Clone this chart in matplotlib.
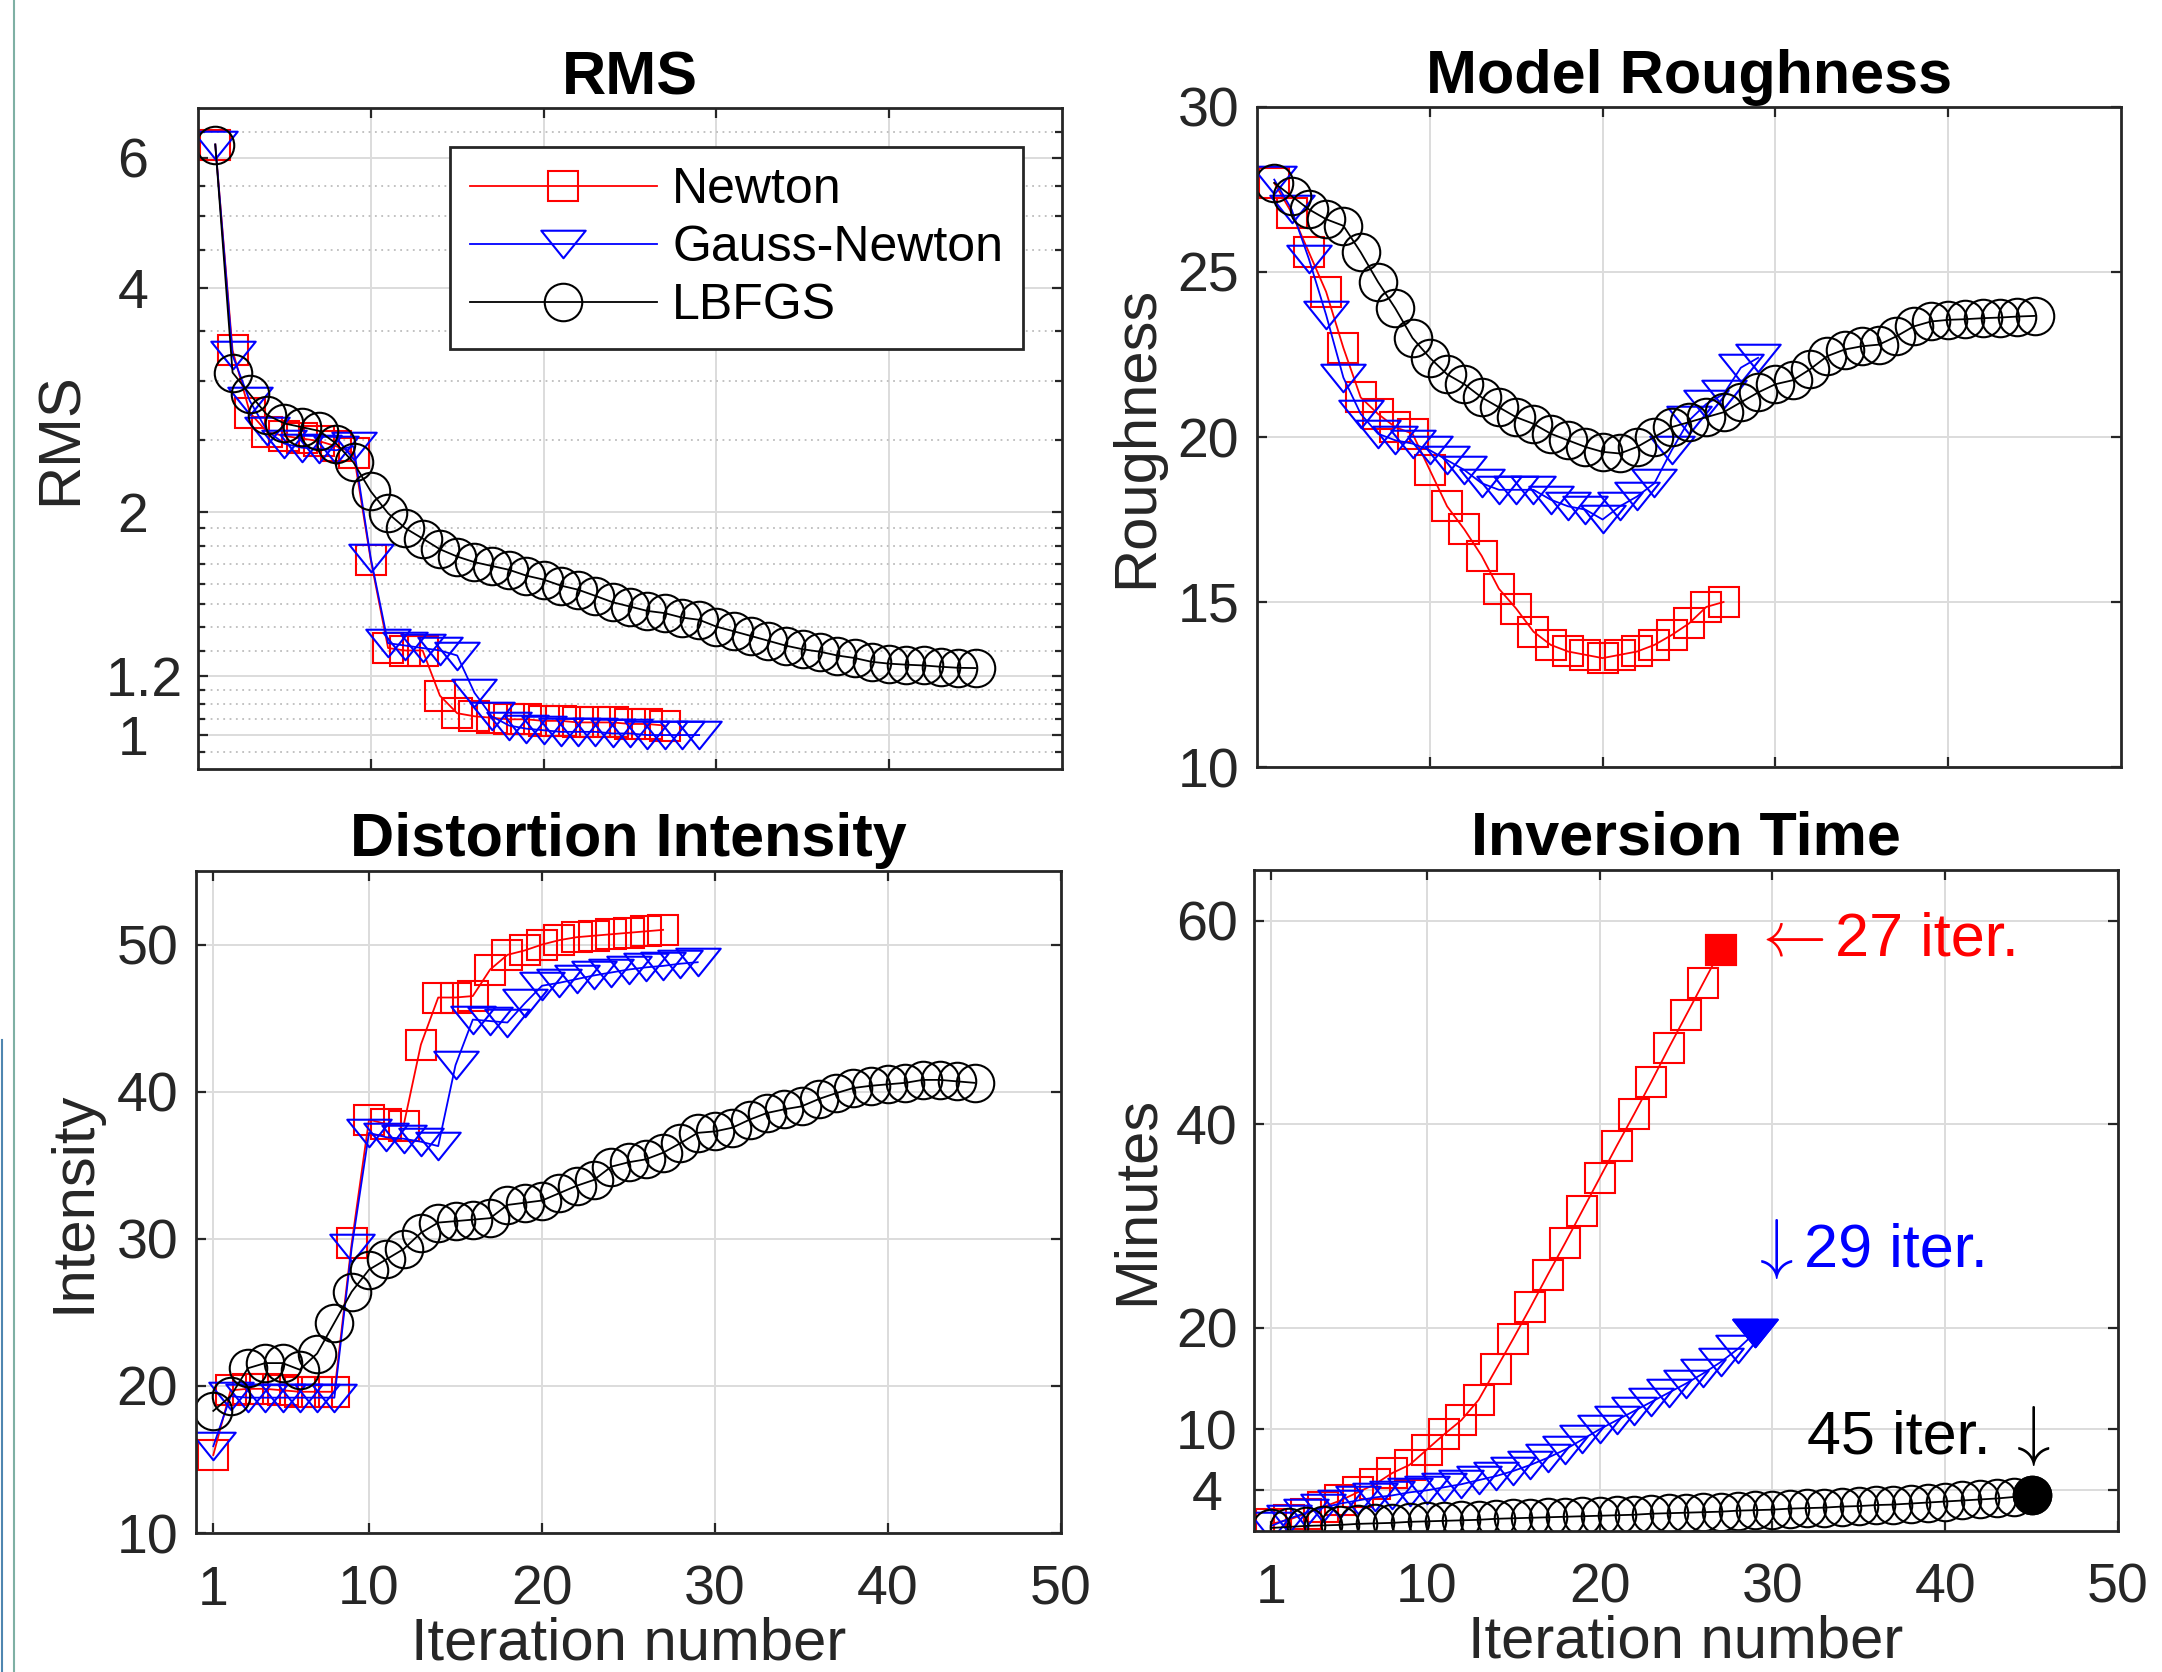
import numpy as np
import matplotlib
matplotlib.use("Agg")
import matplotlib.pyplot as plt
from matplotlib.path import Path
from matplotlib.lines import Line2D
from matplotlib.ticker import NullFormatter

plt.rcParams['font.family'] = ['Liberation Sans', 'DejaVu Sans']
plt.rcParams['mathtext.fontset'] = 'cm'

# ---- data ----
it_newton = np.arange(1, 28)
it_gn = np.arange(1, 30)
it_lbfgs = np.arange(1, 46)

rms_newton = [6.25, 3.30, 2.72, 2.56, 2.53, 2.51, 2.49, 2.45, 2.40, 1.72, 1.31, 1.30, 1.30, 1.13,
              1.07, 1.06, 1.055, 1.05, 1.05, 1.045, 1.045, 1.04, 1.04, 1.04, 1.035, 1.035, 1.03]
rms_gn = [6.25, 3.25, 2.82, 2.57, 2.47, 2.44, 2.43, 2.42, 2.45, 1.73, 1.33, 1.32, 1.31, 1.30, 1.28,
          1.14, 1.06, 1.03, 1.02, 1.015, 1.01, 1.01, 1.01, 1.005, 1.005, 1.0, 1.0, 1.0, 1.0]
rms_lbfgs = [6.25, 3.08, 2.88, 2.70, 2.63, 2.60, 2.57, 2.47, 2.33, 2.13,
             1.99, 1.90, 1.84, 1.78, 1.74, 1.71, 1.69, 1.67, 1.64, 1.62,
             1.59, 1.57, 1.54, 1.51, 1.49, 1.47, 1.46, 1.44, 1.43, 1.40,
             1.38, 1.36, 1.34, 1.32, 1.305, 1.295, 1.28, 1.27, 1.255, 1.248,
             1.244, 1.241, 1.236, 1.232, 1.231]

rough_newton = [27.7, 26.8, 25.6, 24.4, 22.7, 21.2, 20.7, 20.3, 20.1, 19.0, 17.9, 17.2, 16.4, 15.4,
                14.8, 14.1, 13.7, 13.5, 13.4, 13.3, 13.4, 13.5, 13.7, 14.0, 14.35, 14.85, 15.0]
rough_gn = [27.8, 26.9, 25.4, 23.7, 21.8, 20.7, 20.1, 19.9, 19.8, 19.6, 19.3, 19.0, 18.6, 18.4, 18.4,
            18.4, 18.1, 17.9, 17.8, 17.5, 17.9, 18.2, 18.6, 19.6, 20.5, 21.0, 21.3, 22.1, 22.4]
rough_lbfgs = [27.7, 27.3, 26.9, 26.6, 26.4, 25.6, 24.7, 23.9, 23.0, 22.4,
               21.9, 21.6, 21.2, 20.9, 20.6, 20.4, 20.1, 19.9, 19.7, 19.55,
               19.5, 19.7, 20.0, 20.3, 20.45, 20.6, 20.75, 21.05, 21.35, 21.6,
               21.72, 22.05, 22.45, 22.65, 22.75, 22.8, 23.05, 23.35, 23.5, 23.55,
               23.57, 23.6, 23.62, 23.65, 23.67]

int_newton = [15.3, 19.7, 19.8, 19.8, 19.7, 19.6, 19.6, 19.6, 29.7, 38.1, 37.8, 37.7, 43.2, 46.4,
              46.4, 46.5, 48.3, 49.3, 49.6, 50.0, 50.3, 50.5, 50.6, 50.7, 50.8, 50.9, 51.0]
int_gn = [15.9, 19.3, 19.2, 19.2, 19.2, 19.2, 19.2, 19.2, 29.4, 37.2, 36.9, 36.8, 36.6, 36.3, 41.8,
          44.9, 44.8, 44.7, 46.0, 47.2, 47.4, 47.65, 47.9, 48.1, 48.3, 48.45, 48.55, 48.7, 48.8]
int_lbfgs = [18.3, 19.3, 21.2, 21.55, 21.55, 21.1, 22.2, 24.3, 26.4, 27.9,
             28.6, 29.3, 30.4, 31.1, 31.2, 31.3, 31.4, 32.3, 32.45, 32.6,
             33.1, 33.6, 34.0, 34.9, 35.2, 35.4, 35.85, 36.5, 37.2, 37.3,
             37.55, 38.1, 38.55, 38.8, 39.0, 39.5, 39.9, 40.25, 40.4, 40.5,
             40.6, 40.8, 40.8, 40.7, 40.6]

time_newton = [0.7, 1.1, 1.7, 2.35, 3.0, 3.8, 4.6, 5.7, 6.5, 8.0, 9.5, 10.9, 12.9, 15.9, 18.9,
               22.0, 25.2, 28.3, 31.5, 34.7, 37.9, 41.0, 44.2, 47.5, 50.7, 53.9, 57.1]
time_gn = [0.5, 1.2, 1.8, 2.3, 2.7, 3.0, 3.3, 3.5, 3.8, 4.0, 4.3, 4.6, 5.0, 5.4, 5.9, 6.5, 7.2,
           8.0, 9.0, 10.0, 10.9, 11.8, 12.7, 13.6, 14.5, 15.5, 16.6, 17.9, 19.5]
time_lbfgs = [0.3, 0.4, 0.5, 0.55, 0.6, 0.7, 0.75, 0.8, 0.9, 0.95,
              1.0, 1.05, 1.1, 1.2, 1.25, 1.3, 1.35, 1.4, 1.45, 1.5,
              1.55, 1.6, 1.7, 1.75, 1.8, 1.85, 1.9, 2.0, 2.05, 2.1,
              2.2, 2.25, 2.3, 2.4, 2.45, 2.55, 2.6, 2.7, 2.8, 2.9,
              3.0, 3.1, 3.2, 3.35, 3.5]

labels = ["Newton", "Gauss-Newton", "LBFGS"]
colors = ["#FF0000", "#0000FF", "#000000"]

rms_ticks = [1, 1.2, 2, 4, 6]
rms_ticklabels = ["1", "1.2", "2", "4", "6"]
rms_minor = [0.95, 1.05, 1.1, 1.15, 1.3, 1.4, 1.5, 1.6, 1.7, 1.8, 1.9, 2.5, 3, 3.5, 4.5, 5, 5.5, 6.5]
rough_ticks = [10, 15, 20, 25, 30]
int_ticks = [10, 20, 30, 40, 50]
time_ticks = [4, 10, 20, 40, 60]
bottom_xticks = [1, 10, 20, 30, 40, 50]

# wide, flat MATLAB-like down triangle
tri = Path([(-1, 0.62), (1, 0.62), (0, -0.62), (-1, 0.62)],
           [Path.MOVETO, Path.LINETO, Path.LINETO, Path.CLOSEPOLY])
markers = ["s", tri, "o"]
msizes = [21, 32, 27]

W, H = 2162, 1672
fig = plt.figure(figsize=(W / 100, H / 100), dpi=100)


def rect(l, t, r, b):
    return [l / W, 1 - b / H, (r - l) / W, (b - t) / H]


ax_rms = fig.add_axes(rect(198, 108, 1062, 769))
ax_rough = fig.add_axes(rect(1257, 107, 2121, 767))
ax_int = fig.add_axes(rect(196, 871, 1061, 1533))
ax_time = fig.add_axes(rect(1254, 870, 2118, 1531))

GRAY = "#262626"


def style(ax, ypad):
    ax.set_xlim(0, 50)
    for s in ax.spines.values():
        s.set_linewidth(2)
        s.set_color(GRAY)
    ax.tick_params(which="both", direction="in", top=True, right=True, colors=GRAY,
                   labelsize=40, width=1.6)
    ax.tick_params(which="major", length=7.5)
    ax.tick_params(which="minor", length=5)
    ax.tick_params(axis="y", pad=ypad)
    ax.tick_params(axis="x", pad=23)
    ax.grid(True, which="major", color="#dcdcdc", lw=1.4)
    ax.set_axisbelow(True)


def draw(ax, series):
    lines = []
    for (x, y), c, m, ms, lab in zip(series, colors, markers, msizes, labels):
        ln, = ax.plot(x, y, color=c, lw=1.3, marker=m, ms=ms, mfc="none", mec=c, mew=1.5, label=lab)
        lines.append(ln)
    return lines


def center_ylabels(ax):
    for lab in ax.get_yticklabels():
        lab.set_horizontalalignment("center")


# ---- RMS ----
ax = ax_rms
style(ax, 47)
h = draw(ax, [(it_newton, rms_newton), (it_gn, rms_gn), (it_lbfgs, rms_lbfgs)])
ax.set_yscale("log")
ax.set_ylim(0.9, 7.0)
ax.set_yticks(rms_ticks, rms_ticklabels)
ax.set_yticks(rms_minor, minor=True)
ax.yaxis.set_minor_formatter(NullFormatter())
ax.grid(True, which="minor", axis="y", color="#bdbdbd", lw=1.3, ls=(0, (1, 2.5)))
ax.set_xticks([10, 20, 30, 40])
ax.tick_params(axis="x", labelbottom=False)
ax.set_title("RMS", fontsize=44, fontweight="bold", pad=10)
ax.set_ylabel("RMS", fontsize=43, color=GRAY)
ax.yaxis.set_label_coords(-0.127, 0.5)
center_ylabels(ax)
for t in ax.yaxis.get_major_ticks():
    if abs(t.get_loc() - 1.2) < 1e-9:
        t.label1.set_x(0.013)
leg = ax.legend(handles=h, loc="upper right", bbox_to_anchor=(0.955, 0.9405), borderaxespad=0,
                fontsize=36, handlelength=3.75, handletextpad=0.3, borderpad=0.4,
                labelspacing=0.24, fancybox=False, framealpha=1, edgecolor=GRAY)
leg.get_frame().set_linewidth(2)

# ---- Roughness ----
ax = ax_rough
style(ax, 35)
draw(ax, [(it_newton, rough_newton), (it_gn, rough_gn), (it_lbfgs, rough_lbfgs)])
ax.set_ylim(10, 30)
ax.set_yticks(rough_ticks)
ax.set_xticks([10, 20, 30, 40])
ax.tick_params(axis="x", labelbottom=False)
ax.set_title("Model Roughness", fontsize=44, fontweight="bold", pad=10)
ax.set_ylabel("Roughness", fontsize=43, color=GRAY)
ax.yaxis.set_label_coords(-0.108, 0.5)
center_ylabels(ax)

# ---- Intensity ----
ax = ax_int
style(ax, 35)
draw(ax, [(it_newton, int_newton), (it_gn, int_gn), (it_lbfgs, int_lbfgs)])
ax.set_ylim(10, 55)
ax.set_yticks(int_ticks)
ax.set_xticks(bottom_xticks)
ax.set_title("Distortion Intensity", fontsize=44, fontweight="bold", pad=11)
ax.set_ylabel("Intensity", fontsize=43, color=GRAY)
ax.yaxis.set_label_coords(-0.109, 0.5)
ax.set_xlabel("Iteration number", fontsize=43, color=GRAY, labelpad=0)
center_ylabels(ax)

# ---- Inversion time ----
ax = ax_time
style(ax, 34)
draw(ax, [(it_newton, time_newton), (it_gn, time_gn), (it_lbfgs, time_lbfgs)])
for x, y, c, m, ms in zip([it_newton, it_gn, it_lbfgs], [time_newton, time_gn, time_lbfgs],
                          colors, markers, msizes):
    ax.plot(x[-1:], y[-1:], ls="none", marker=m, ms=ms, mfc=c, mec=c, mew=1.5)
ax.set_ylim(0, 65)
ax.set_yticks(time_ticks)
ax.set_xticks(bottom_xticks)
ax.set_title("Inversion Time", fontsize=44, fontweight="bold", pad=11)
ax.set_ylabel("Minutes", fontsize=43, color=GRAY)
ax.yaxis.set_label_coords(-0.104, 0.5)
ax.set_xlabel("Iteration number", fontsize=43, color=GRAY, labelpad=0)
center_ylabels(ax)

# end-of-run annotations
ax.text(30.9, 58.3, r"$\leftarrow$", color=colors[0], fontsize=46, va="center", ha="center")
ax.text(33.6, 58.1, "27 iter.", color=colors[0], fontsize=44, va="center", ha="left")
ax.text(29.9, 27.7, r"$\downarrow$", color=colors[1], fontsize=48, va="center", ha="center")
ax.text(31.8, 27.5, "29 iter.", color=colors[1], fontsize=44, va="center", ha="left")
ax.text(32.0, 9.1, "45 iter.", color=colors[2], fontsize=44, va="center", ha="left")
ax.text(44.8, 9.3, r"$\downarrow$", color=colors[2], fontsize=48, va="center", ha="center")

# thin frame lines at the left edge of the screenshot
fig.add_artist(Line2D([14 / W, 14 / W], [0, 1], transform=fig.transFigure, color="#7fb0a4", lw=1.5))
fig.add_artist(Line2D([2 / W, 2 / W], [0, 1 - 1040 / H], transform=fig.transFigure,
                      color="#4f86b0", lw=1.5))

fig.savefig("out.png", dpi=100)
